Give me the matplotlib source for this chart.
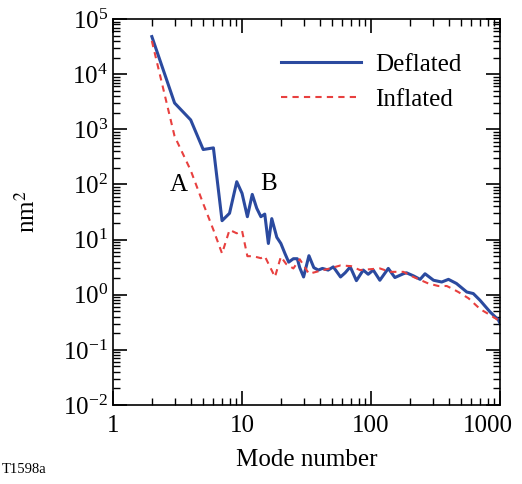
"""
Mode spectrum of deflated vs inflated shell (log-log), saved to out.png.
"""

import matplotlib.pyplot as plt
from matplotlib.transforms import ScaledTranslation

plt.rcParams['font.family'] = ['Liberation Serif', 'DejaVu Serif']
plt.rcParams['mathtext.fontset'] = 'stix'

# Deflated spectrum (mode number, nm^2)
defl_mode = [2, 3, 4, 5, 6, 7, 8, 9.1, 10, 11, 12, 13, 14, 15, 16, 17, 18.6,
             20, 21.5, 23, 25, 26.8, 28, 30, 33, 36, 39, 42, 46.5, 51, 58, 63,
             69, 77, 87, 95, 104, 117, 136, 153, 178, 188, 213, 240, 262, 305,
             353, 398, 459, 552, 620, 700, 835, 970, 1000]
defl_amp = [4.8e4, 3000, 1480, 430, 460, 22, 30, 112, 69, 26, 66, 37, 26, 29,
            8.5, 24, 11, 8.5, 5.6, 3.9, 4.5, 4.5, 3.1, 2.1, 5.1, 3.1, 2.8, 3.0,
            2.8, 3.2, 2.1, 2.5, 3.2, 1.8, 2.8, 2.35, 2.8, 1.83, 3.0, 2.05, 2.4,
            2.5, 2.2, 1.9, 2.4, 1.83, 1.7, 1.9, 1.6, 1.12, 1.05, 0.79, 0.49,
            0.35, 0.3]

# Inflated spectrum
infl_mode = [2, 3, 4, 5, 6, 7, 8, 9.1, 10, 11, 12.2, 14, 15, 18, 20, 22, 25,
             28, 33, 40, 48, 58, 70, 82, 117, 140, 178, 213, 278, 332, 386,
             422, 475, 570, 700, 835, 1000]
infl_amp = [4.0e4, 750, 180, 45, 15, 5.6, 15, 13, 14.5, 5.0, 5.0, 4.6, 5.0,
            2.1, 4.9, 3.6, 3.0, 4.4, 2.4, 2.7, 3.0, 3.4, 3.3, 2.8, 3.0, 2.6,
            2.6, 2.1, 1.6, 1.44, 1.44, 1.3, 1.12, 0.86, 0.55, 0.43, 0.33]

FS = 18

fig = plt.figure(figsize=(5.22, 4.84), dpi=100)
ax = fig.add_axes([0.2165, 0.1632, 0.7415, 0.7975])

ax.plot(defl_mode, defl_amp, color='#2b4a9f', linewidth=2.2, label='Deflated')
ax.plot(infl_mode, infl_amp, color='#e8403f', linewidth=1.5,
        linestyle=(0, (3, 2.5)), label='Inflated')

ax.set_xscale('log')
ax.set_yscale('log')
ax.set_xlim(1, 1000)
ax.set_ylim(1e-2, 1e5)

ax.set_xticks([1, 10, 100, 1000])
ax.set_xticklabels(['1', '10', '100', '1000'])
ax.set_yticks([10.0 ** k for k in range(-2, 6)])
ax.tick_params(which='both', direction='in', top=True, right=True,
               labelsize=FS)
ax.tick_params(axis='x', which='major', pad=7)
ax.tick_params(which='major', length=10, width=1.2)
ax.tick_params(which='minor', length=5, width=1.0)
for s in ax.spines.values():
    s.set_linewidth(1.2)

# last x label sits pulled in from the corner
lbl = ax.get_xticklabels()[-1]
lbl.set_transform(lbl.get_transform() +
                  ScaledTranslation(-12 / 100, 0, fig.dpi_scale_trans))

ax.set_xlabel('Mode number', fontsize=FS, labelpad=9)
ax.set_ylabel('nm$^2$', fontsize=FS, labelpad=17)

ax.text(3.25, 98, 'A', fontsize=FS, ha='center', va='center')
ax.text(16.2, 100, 'B', fontsize=FS, ha='center', va='center')

ax.legend(loc='upper right', fontsize=FS, frameon=False, handlelength=3.2,
          handletextpad=0.55, labelspacing=0.5,
          bbox_to_anchor=(0.958, 0.97))

fig.text(0.003, 0.03, 'T1598a', fontsize=10.5, ha='left', va='center')

fig.savefig('out.png', dpi=100)
